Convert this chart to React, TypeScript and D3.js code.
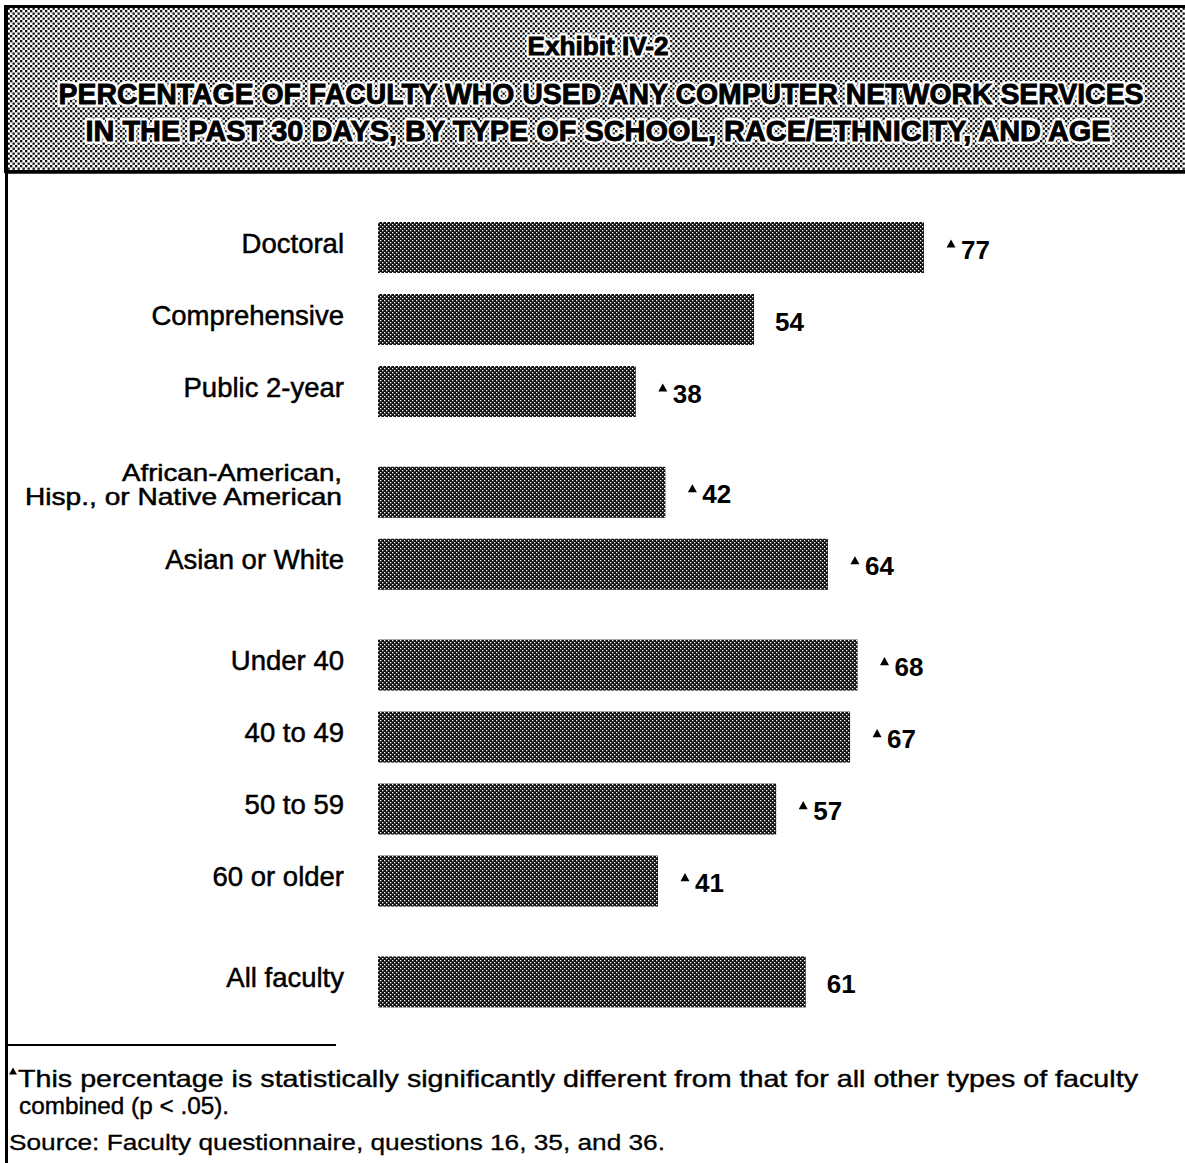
import React from "react";
import * as d3 from "d3";

const categories = [
  "Doctoral",
  "Comprehensive",
  "Public 2-year",
  "African-American,|Hisp., or Native American",
  "Asian or White",
  "Under 40",
  "40 to 49",
  "50 to 59",
  "60 or older",
  "All faculty",
];
const values = [77, 54, 38, 42, 64, 68, 67, 57, 41, 61];
const significant = [true, false, true, true, true, true, true, true, true, false];
const groups = [0, 0, 0, 1, 1, 2, 2, 2, 2, 3];

const titleLines = [
  "Exhibit IV-2",
  "PERCENTAGE OF FACULTY WHO USED ANY COMPUTER NETWORK SERVICES",
  "IN THE PAST 30 DAYS, BY TYPE OF SCHOOL, RACE/ETHNICITY, AND AGE",
];
const footnote1 = "This percentage is statistically significantly different from that for all other types of faculty";
const footnote2 = "combined (p < .05).";
const sourceText = "Source: Faculty questionnaire, questions 16, 35, and 36.";

const W = 1185;
const H = 1163;
const FONT = "'Liberation Sans', Arial, Helvetica, sans-serif";

export default function App() {
  const x = d3.scaleLinear().domain([0, 77]).range([355, 924]);
  const barStart = 378;
  const slots = categories.map((_, i) => i + groups[i] * 0.4);
  const y = d3.scaleLinear().domain([0, 1]).range([222, 294]);
  const barH = 51;

  const tri = (cx: number, cy: number, s: number) =>
    `M${cx - s / 2},${cy + s * 0.45}L${cx + s / 2},${cy + s * 0.45}L${cx},${cy - s * 0.45}Z`;

  const titles = [
    { t: titleLines[0], x: 598, y: 55, fs: 23, sy: 1.1, len: 141 },
    { t: titleLines[1], x: 601, y: 104, fs: 26, sy: 1.15, len: 1085 },
    { t: titleLines[2], x: 598, y: 141, fs: 26, sy: 1.15, len: 1025 },
  ];

  return (
    <svg
      width={W}
      height={H}
      style={{ position: "absolute", left: 0, top: 0, background: "#fff" }}
      fontFamily={FONT}
    >
      <defs>
        <pattern id="hdr" width="5" height="5" patternUnits="userSpaceOnUse">
          <rect width="5" height="5" fill="#fff" />
          <rect x="0" y="0" width="2.3" height="2.3" fill="#111" />
          <rect x="2.5" y="2.5" width="2.3" height="2.3" fill="#111" />
        </pattern>
        <pattern id="bar" width="4" height="4" patternUnits="userSpaceOnUse">
          <rect width="4" height="4" fill="#111" />
          <rect x="0" y="0" width="1.3" height="1.3" fill="#fff" />
          <rect x="2" y="2" width="1.3" height="1.3" fill="#fff" />
        </pattern>
      </defs>

      {/* header */}
      <rect x={5.5} y={6.5} width={1185} height={165} fill="url(#hdr)" stroke="#000" strokeWidth={3} />
      <line x1={5} y1={172} x2={W} y2={172} stroke="#000" strokeWidth={3.5} />
      <line x1={6.5} y1={6} x2={6.5} y2={H} stroke="#000" strokeWidth={3} />

      <g fontWeight="bold" textAnchor="middle">
        {titles.map((d) => (
          <g key={d.t} transform={`translate(${d.x},${d.y}) scale(1,${d.sy})`}>
            <text x={0} y={0} fontSize={d.fs} textLength={d.len} lengthAdjust="spacingAndGlyphs"
              fill="#fff" stroke="#fff" strokeWidth={5} strokeLinejoin="round">
              {d.t}
            </text>
            <text x={0} y={0} fontSize={d.fs} textLength={d.len} lengthAdjust="spacingAndGlyphs"
              fill="#000" stroke="#000" strokeWidth={0.8}>
              {d.t}
            </text>
          </g>
        ))}
      </g>

      {/* bars */}
      {categories.map((c, i) => {
        const top = y(slots[i]);
        const cy = top + barH / 2;
        const end = x(values[i]);
        const lines = c.split("|");
        return (
          <g key={c}>
            <rect x={barStart} y={top} width={end - barStart} height={barH} fill="url(#bar)" />
            {lines.length === 1 ? (
              <text x={344} y={cy + 5} textAnchor="end" fontSize={27.5} fill="#000" stroke="#000" strokeWidth={0.5}>
                {c}
              </text>
            ) : (
              <g textAnchor="end" fontSize={24} fill="#000" stroke="#000" strokeWidth={0.5}>
                <text x={342} y={cy - 11} textLength={220} lengthAdjust="spacingAndGlyphs">{lines[0]}</text>
                <text x={342} y={cy + 13} textLength={317} lengthAdjust="spacingAndGlyphs">{lines[1]}</text>
              </g>
            )}
            {significant[i] && <path d={tri(end + 27, cy - 4, 9)} fill="#000" />}
            <text
              x={end + (significant[i] ? 37 : 21)}
              y={cy + 11}
              fontSize={26}
              fontWeight="bold"
              fill="#000"
            >
              {values[i]}
            </text>
          </g>
        );
      })}

      {/* footnotes */}
      <line x1={8} y1={1045} x2={336} y2={1045} stroke="#000" strokeWidth={2} />
      <path d={tri(13, 1071, 8)} fill="#000" />
      <text x={18} y={1087} fontSize={24} fill="#000" stroke="#000" strokeWidth={0.4}
        textLength={1120} lengthAdjust="spacingAndGlyphs">
        {footnote1}
      </text>
      <text x={19} y={1114} fontSize={24} fill="#000" stroke="#000" strokeWidth={0.4}
        textLength={210} lengthAdjust="spacingAndGlyphs">
        {footnote2}
      </text>
      <text x={9} y={1150} fontSize={22} fill="#000" stroke="#000" strokeWidth={0.3}
        textLength={656} lengthAdjust="spacingAndGlyphs">
        {sourceText}
      </text>
    </svg>
  );
}
